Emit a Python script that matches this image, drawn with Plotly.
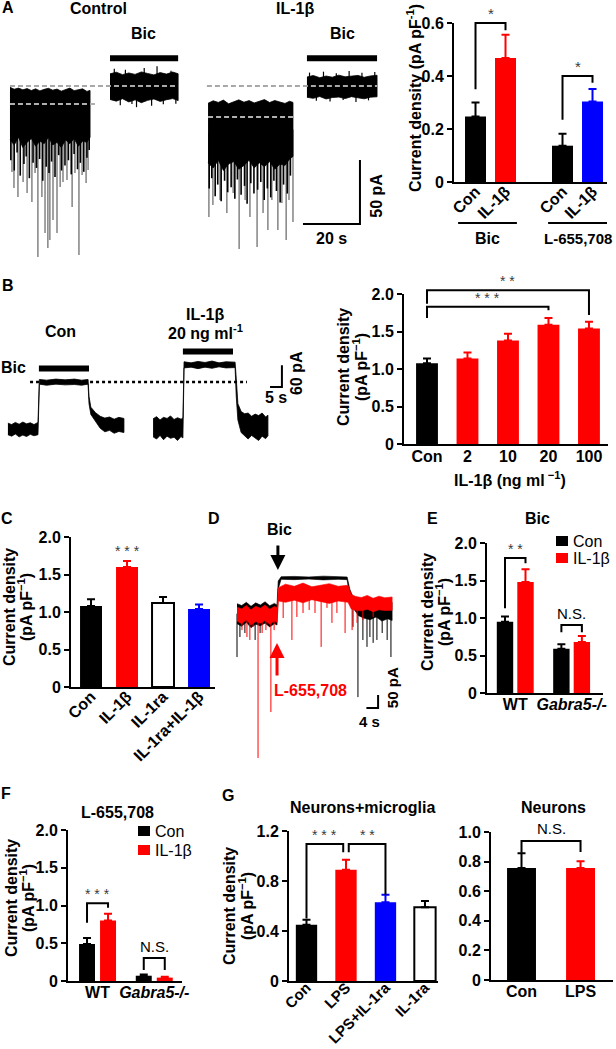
import plotly.graph_objects as go

W, H = 616, 1049
FONT = "Liberation Sans, Arial, Helvetica, sans-serif"
RED, BLUE, BLK, WHITE = "#ff0000", "#0000ff", "#000000", "#ffffff"
SPK = "#707070"
STARC = "#3a3a3a"

# ======================= DATA =======================
# ---- A: recordings (time s, current pA) ----
a_ctl_t = [3.5, 5.0, 6.5, 8.0, 9.5, 11.0, 12.5, 14.0, 15.5, 17.0, 18.5, 20.0, 21.5, 23.0, 24.5, 26.0, 27.5, 29.0, 30.5, 31.6]
a_ctl_top = [-1.0, -2.5, -1.6, -3.0, -2.0, -3.5, -2.2, -3.8, -2.6, -1.8, -3.2, -2.4, -4.0, -2.8, -1.6, -3.6, -3.0, -2.2, -4.2, -3.4]
a_ctl_bot = [-42, -46, -40, -48, -44, -41, -47, -43, -45, -40, -46, -44, -48, -42, -45, -41, -47, -43, -44, -40]
a_ctl_blk_t = [3.8, 5.0, 6.0, 7.1, 8.4, 9.2, 10.3, 11.6, 12.8, 13.9, 15.0, 16.2, 17.2, 18.1, 19.3, 20.6, 21.6, 22.8, 24.0, 25.0, 26.0, 27.2, 28.2, 29.4, 30.5, 31.3]
a_ctl_blk_y = [-58, -66, -52, -70, -61, -55, -72, -60, -64, -57, -74, -63, -68, -59, -71, -54, -66, -62, -58, -69, -53, -65, -60, -67, -56, -50]
a_ctl_spk_t = [4.2, 4.9, 6.3, 8.1, 9.5, 11.2, 12.3, 13.3, 14.7, 15.8, 16.8, 17.5, 18.6, 20.0, 21.1, 22.1, 23.5, 25.3, 26.3, 27.7, 28.8, 30.2, 30.9]
a_ctl_spk_y = [-67.2, -79.7, -86.7, -75.0, -83.6, -90.6, -68.0, -133.6, -86.7, -114.8, -126.6, -120.3, -104.7, -114.8, -78.9, -75.0, -73.4, -94.5, -68.0, -132.0, -69.5, -75.8, -65.6]
a_ctl_bic_t = [38.6, 40.8, 43.0, 45.2, 47.4, 49.6, 51.8, 54.0, 56.2, 58.4, 60.6, 62.5]
a_ctl_bic_top = [9.5, 10.8, 8.9, 10.2, 9.1, 11.0, 9.8, 8.7, 10.5, 9.3, 10.9, 9.6]
a_ctl_bic_bot = [-10.5, -11.8, -9.9, -12.4, -10.8, -13.0, -11.2, -10.1, -12.0, -10.7, -9.8, -11.4]
a_ctl_bic_spk_t = [40.1, 42.2, 44.0, 46.3, 47.9, 50.6, 53.2, 55.1, 57.3, 60.0, 61.7]
a_ctl_bic_spk_y = [13.5, -15.0, 12.8, -14.0, -16.5, 14.0, -15.5, 15.5, -14.2, 12.0, -13.8]
a_ctl_hold = -14.0

a_il_t = [73.0, 74.8, 76.6, 78.4, 80.2, 82.0, 83.8, 85.6, 87.4, 89.2, 91.0, 92.8, 94.6, 96.4, 98.2, 100.0, 101.6, 102.8]
a_il_top = [-13.5, -11.5, -12.8, -11.0, -13.9, -12.2, -10.8, -12.6, -11.4, -13.2, -11.8, -10.6, -12.9, -11.3, -12.5, -13.6, -11.9, -12.8]
a_il_bot = [-60, -64, -58, -66, -61, -59, -65, -62, -58, -64, -60, -63, -59, -65, -61, -62, -57, -55]
a_il_blk_t = [73.4, 74.3, 75.5, 76.4, 77.6, 78.8, 79.9, 81.1, 82.4, 83.3, 84.6, 85.8, 86.7, 88.0, 89.1, 90.4, 91.5, 92.7, 93.8, 95.0, 96.1, 97.0, 98.3, 99.5, 100.8, 101.9]
a_il_blk_y = [-80, -72, -86, -77, -90, -74, -83, -79, -88, -73, -85, -78, -92, -76, -84, -81, -75, -89, -80, -87, -74, -82, -91, -77, -84, -70]
a_il_spk_t = [73.3, 74.7, 77.2, 79.6, 81.8, 83.9, 86.0, 87.7, 90.2, 92.3, 94.0, 95.4, 97.5, 98.9, 100.4, 101.4, 102.8]
a_il_spk_y = [-102.3, -93.0, -89.0, -99.2, -83.6, -127.3, -89.0, -102.3, -125.8, -99.2, -112.5, -89.0, -112.5, -91.4, -120.3, -89.0, -106.3]
a_il_bic_t = [107.7, 109.9, 112.2, 114.4, 116.6, 118.9, 121.1, 123.3, 125.6, 127.8, 130.0, 132.3]
a_il_bic_top = [7.0, 8.2, 6.5, 7.8, 6.9, 8.5, 7.2, 7.6, 8.3, 6.8, 7.9, 8.4]
a_il_bic_bot = [-8.8, -9.6, -8.2, -10.1, -9.0, -8.6, -9.8, -8.3, -9.2, -10.0, -8.7, -8.4]
a_il_bic_spk_t = [108.6, 111.0, 113.5, 115.8, 118.0, 120.4, 122.5, 124.9, 127.0, 129.3, 131.5]
a_il_bic_spk_y = [10.5, -11.5, 11.2, -12.0, 10.0, -11.0, 11.8, -12.5, 10.4, -11.2, 11.0]
a_il_hold = -24.2
a_bic_level = 0.0

# ---- A: bars ----
a_ticks = ["Con", "IL-1β", "Con", "IL-1β"]
a_groups = ["Bic", "L-655,708"]
a_vals = [0.247, 0.468, 0.137, 0.304]
a_errs = [0.053, 0.088, 0.045, 0.047]

# ---- B: recordings ----
b_con_t = [3.4, 5.0, 6.6, 8.2, 9.8, 11.4, 13.0, 14.6, 16.3, 16.9, 20.0, 24.0, 28.0, 32.0, 35.0, 37.8, 38.2, 39.0, 41.0, 43.0, 45.0, 47.0, 49.0, 51.0, 53.2]
b_con_top = [-114, -118, -112, -117, -111, -116, -113, -118, -112, 7, 5, 8, 6, 8, 5, 7, -40, -70, -85, -95, -100, -97, -103, -98, -101]
b_con_bot = [-146, -150, -144, -152, -147, -151, -145, -149, -146, -6, -9, -6, -8, -7, -9, -6, -60, -90, -110, -128, -138, -134, -142, -137, -140]
b_il_t = [65.7, 67.2, 68.7, 70.2, 71.7, 73.2, 74.7, 76.2, 77.7, 78.5, 79.0, 82.0, 85.0, 88.0, 91.0, 94.0, 97.0, 100.9, 101.4, 102.1, 103.5, 105.0, 106.5, 108.0, 109.5, 111.0, 112.5, 114.0, 115.0]
b_il_top = [-102, -96, -105, -98, -101, -94, -104, -99, -103, -100, 56, 53, 57, 54, 58, 53, 56, 55, 10, -60, -82, -88, -86, -95, -89, -93, -86, -97, -92]
b_il_bot = [-152, -158, -148, -160, -150, -156, -153, -162, -151, -155, 39, 41, 37, 41, 38, 42, 39, 40, -40, -105, -140, -150, -158, -148, -156, -162, -150, -157, -149]
b_con_bic = [16.7, 38.2]
b_il_bic = [78.5, 100.0]

# ---- B: bars ----
b_ticks = ["Con", "2", "10", "20", "100"]
b_vals = [1.076, 1.14, 1.38, 1.59, 1.54]
b_errs = [0.065, 0.08, 0.09, 0.09, 0.09]

# ---- C ----
c_ticks = ["Con", "IL-1β", "IL-1ra", "IL-1ra+IL-1β"]
c_vals = [1.08, 1.60, 1.12, 1.04]
c_errs = [0.09, 0.08, 0.08, 0.06]

# ---- D: recordings ----
d_blk_t = [2.4, 4.0, 5.6, 7.2, 8.8, 10.4, 12.0, 13.6, 15.2, 16.1, 16.5, 17.5, 22.0, 27.0, 32.0, 37.0, 40.1, 41.0, 42.1, 44.0, 46.0, 48.0, 50.0, 52.0, 54.0, 55.5]
d_blk_top = [35, 28, 40, 25, 38, 30, 42, 27, 36, 30, 120, 136, 137, 135, 138, 136, 135, 90, 60, 45, 50, 38, 48, 35, 42, 40]
d_blk_bot = [-40, -50, -35, -55, -42, -48, -38, -52, -40, -45, 90, 126, 125, 127, 124, 126, 125, 60, 20, -10, -20, -25, -15, -30, -22, -28]
d_blk_spk_t = [2.4, 3.4, 5.1, 8.6, 10.3, 42.1, 43.8, 45.5, 46.9, 47.9, 49.0, 50.3, 52.1, 53.8, 55.1]
d_blk_spk_y = [-165, -90, -75, -101, -75, -52, -315, -101, -127, -90, -112, -101, -75, -101, -165]
d_red_t = [2.4, 4.0, 5.6, 7.2, 8.8, 10.4, 12.0, 13.6, 15.2, 16.1, 16.6, 19.0, 22.0, 25.0, 28.0, 31.0, 34.0, 37.0, 40.4, 41.5, 43.0, 45.0, 47.0, 49.0, 51.0, 53.0, 55.5]
d_red_top = [22, 15, 28, 12, 25, 18, 30, 14, 24, 20, 95, 108, 100, 112, 98, 105, 110, 100, 104, 70, 62, 58, 66, 55, 63, 57, 60]
d_red_bot = [-30, -40, -25, -45, -32, -38, -28, -42, -30, -35, 45, 40, 48, 38, 50, 42, 36, 45, 40, 15, 10, 8, 14, 5, 12, 9, 10]
d_red_spk_t = [4.1, 5.8, 6.8, 7.9, 9.6, 11.0, 12.3, 14.0, 15.1, 18.2, 21.2, 22.9, 25.0, 27.1, 29.1, 31.2, 33.2, 34.9, 36.6, 39.4, 41.8, 43.5, 45.5, 49.0]
d_red_spk_y = [-64, -90, -101, -52, -543, -75, -64, -371, -64, -19, -101, -15, 0, 11, 0, -127, 19, -37, 0, -75, -64, -37, -26, -15]
d_apply_t = 16.3

# ---- E ----
e_ticks = ["WT", "<i>Gabra5-/-</i>"]
e_con = [0.95, 0.59]
e_con_err = [0.07, 0.06]
e_il = [1.48, 0.68]
e_il_err = [0.17, 0.08]

# ---- F ----
f_con = [0.49, 0.07]
f_con_err = [0.08, 0.015]
f_il = [0.80, 0.045]
f_il_err = [0.09, 0.01]

# ---- G ----
g1_ticks = ["Con", "LPS", "LPS+IL-1ra", "IL-1ra"]
g1_vals = [0.45, 0.89, 0.63, 0.59]
g1_errs = [0.04, 0.08, 0.06, 0.05]
g2_ticks = ["Con", "LPS"]
g2_vals = [0.757, 0.757]
g2_errs = [0.10, 0.045]

# ======================= FIGURE =======================
fig = go.Figure()
layout = dict(width=W, height=H, margin=dict(l=0, r=0, t=0, b=0), template="none",
              paper_bgcolor="white", plot_bgcolor="rgba(0,0,0,0)", showlegend=False,
              barmode="overlay", font=dict(family=FONT, color="black", size=15))
shapes, annos = [], []
AX = {}


def tf(size=16):
    return dict(family=FONT, size=size, color="black", weight="bold")


def ref(n):
    return ("x" if n == 1 else f"x{n}"), ("y" if n == 1 else f"y{n}")


def make_axis(n, xpx, ypx, xr, yr, bar=False, yt=None, xt=None, xang=0, stand=0, xfs=16):
    AX[n] = (xpx, ypx, xr, yr)
    xk = "xaxis" if n == 1 else f"xaxis{n}"
    yk = "yaxis" if n == 1 else f"yaxis{n}"
    xr_, yr_ = ref(n)
    xa = dict(domain=[xpx[0] / W, xpx[1] / W], range=list(xr), anchor=yr_, showgrid=False,
              zeroline=False, visible=bar, automargin=False, fixedrange=True)
    ya = dict(domain=[1 - ypx[1] / H, 1 - ypx[0] / H], range=list(yr), anchor=xr_, showgrid=False,
              zeroline=False, visible=bar, automargin=False, fixedrange=True)
    if bar:
        xa.update(showline=True, linewidth=2, linecolor="black", ticks="", tickmode="array",
                  tickvals=xt[0], ticktext=xt[1], tickangle=xang, tickfont=tf(xfs),
                  ticklabelstandoff=stand)
        ya.update(showline=True, linewidth=2, linecolor="black", ticks="outside", ticklen=5,
                  tickwidth=2, tickcolor="black", tickmode="array", tickvals=yt[0],
                  ticktext=yt[1], tickfont=tf(16))
    layout[xk] = xa
    layout[yk] = ya


def P(n, x, y):
    xpx, ypx, xr, yr = AX[n]
    px = xpx[0] + (x - xr[0]) / (xr[1] - xr[0]) * (xpx[1] - xpx[0])
    py = ypx[1] - (y - yr[0]) / (yr[1] - yr[0]) * (ypx[1] - ypx[0])
    return px / W, 1 - py / H


def pp(px, py):
    return px / W, 1 - py / H


def text(xy, s, size=16, bold=True, color="black", angle=0, xanchor="center", yanchor="middle"):
    annos.append(dict(x=xy[0], y=xy[1], xref="paper", yref="paper", showarrow=False,
                      text=(f"<b>{s}</b>" if bold else s), textangle=angle,
                      font=dict(family=FONT, size=size, color=color),
                      xanchor=xanchor, yanchor=yanchor, borderpad=0))


def ytitle(x1, x2, cy, size=16, l1="Current density", l2="(pA pF<sup>−1</sup>)"):
    text(pp(x1, cy), l1, size=size, angle=-90)
    text(pp(x2, cy), l2, size=size, angle=-90)


def band(n, t, top, bot, color, lw=0.8):
    xr_, yr_ = ref(n)
    fig.add_trace(go.Scatter(x=list(t) + list(t[::-1]), y=list(top) + list(bot[::-1]),
                             fill="toself", fillcolor=color, mode="lines",
                             line=dict(color=color, width=lw), xaxis=xr_, yaxis=yr_,
                             hoverinfo="skip"))


def spikes(n, st, sy, t, top, bot, color, lw=1.2):
    xr_, yr_ = ref(n)
    xs, ys = [], []
    for ts, ysp in zip(st, sy):
        i = min(range(len(t)), key=lambda k: abs(t[k] - ts))
        base = (top[i] + bot[i]) / 2
        xs += [ts, ts, None]
        ys += [base, ysp, None]
    fig.add_trace(go.Scatter(x=xs, y=ys, mode="lines", line=dict(color=color, width=lw),
                             xaxis=xr_, yaxis=yr_, hoverinfo="skip"))


def line(n, xs, ys, color="black", width=2, dash=None):
    xr_, yr_ = ref(n)
    fig.add_trace(go.Scatter(x=xs, y=ys, mode="lines",
                             line=dict(color=color, width=width, dash=dash),
                             xaxis=xr_, yaxis=yr_, hoverinfo="skip"))


def bars(n, xs, vals, errs, cols, width):
    xr_, yr_ = ref(n)
    for x, v, e, c in zip(xs, vals, errs, cols):
        white = c == WHITE
        fig.add_trace(go.Bar(x=[x], y=[v], width=width, xaxis=xr_, yaxis=yr_,
                             marker=dict(color=c, line=dict(color=BLK, width=2 if white else 0)),
                             error_y=dict(type="data", symmetric=False, array=[e], arrayminus=[0],
                                          color=BLK if white else c, thickness=2, width=4),
                             hoverinfo="skip"))


def bracket(n, x1, x2, ytop, yl, yr_):
    X1, Yt = P(n, x1, ytop)
    X2, _ = P(n, x2, ytop)
    _, Yl = P(n, x1, yl)
    _, Yr = P(n, x2, yr_)
    shapes.append(dict(type="path", xref="paper", yref="paper",
                       path=f"M {X1},{Yl} L {X1},{Yt} L {X2},{Yt} L {X2},{Yr}",
                       line=dict(color="black", width=2)))


def stars(n, x, y, s, size=14):
    xy = P(n, x, y)
    annos.append(dict(x=xy[0], y=xy[1], xref="paper", yref="paper", showarrow=False,
                      text=s, font=dict(family=FONT, size=size,
                                        color=STARC if s.startswith("*") else "black"),
                      xanchor="center", yanchor="bottom", borderpad=0))


def legend_box(px, py, color, label):
    shapes.append(dict(type="rect", xref="paper", yref="paper",
                       x0=px / W, x1=(px + 12) / W, y0=1 - (py + 5) / H, y1=1 - (py - 5) / H,
                       fillcolor=color, line=dict(width=0)))
    text(pp(px + 16, py), label, size=16, bold=False, xanchor="left")


# ---------------- Panel A: traces ----------------
make_axis(1, (0, 400), (0, 265), (0, 140.35), (-139.8, 67.2))
spikes(1, a_ctl_spk_t, a_ctl_spk_y, a_ctl_t, a_ctl_top, a_ctl_bot, SPK, 1.3)
spikes(1, a_il_spk_t, a_il_spk_y, a_il_t, a_il_top, a_il_bot, SPK, 1.3)
spikes(1, a_ctl_blk_t, a_ctl_blk_y, a_ctl_t, a_ctl_top, a_ctl_bot, BLK, 1.6)
spikes(1, a_il_blk_t, a_il_blk_y, a_il_t, a_il_top, a_il_bot, BLK, 1.6)
spikes(1, a_ctl_bic_spk_t, a_ctl_bic_spk_y, a_ctl_bic_t, a_ctl_bic_top, a_ctl_bic_bot, BLK, 1.2)
spikes(1, a_il_bic_spk_t, a_il_bic_spk_y, a_il_bic_t, a_il_bic_top, a_il_bic_bot, BLK, 1.2)
band(1, a_ctl_t, a_ctl_top, a_ctl_bot, BLK)
band(1, a_il_t, a_il_top, a_il_bot, BLK)
band(1, a_ctl_bic_t, a_ctl_bic_top, a_ctl_bic_bot, BLK)
band(1, a_il_bic_t, a_il_bic_top, a_il_bic_bot, BLK)
line(1, [a_ctl_t[0], a_ctl_bic_t[-1]], [a_bic_level] * 2, "#a8a8a8", 2, "5px,3px")
line(1, [a_il_t[0] - 0.4, a_il_bic_t[-1]], [a_bic_level] * 2, "#a8a8a8", 2, "5px,3px")
line(1, [a_ctl_t[0], a_ctl_t[-1] + 2.4], [a_ctl_hold] * 2, "#b0b0b0", 2, "5px,3px")
line(1, [a_il_t[0], a_il_t[-1]], [a_il_hold] * 2, "#b0b0b0", 2, "5px,3px")
line(1, [a_ctl_bic_t[0], a_ctl_bic_t[-1]], [21.7, 21.7], BLK, 6)
line(1, [a_il_bic_t[0], a_il_bic_t[-1]], [21.7, 21.7], BLK, 6)
line(1, [106.3, 126.3, 126.3], [-107.8, -107.8, -57.8], BLK, 2)
text(P(1, 34.7, 60.9), "Control")
text(P(1, 103.5, 60.9), "IL-1β")
text(P(1, 50.5, 41.4), "Bic")
text(P(1, 120.0, 41.4), "Bic")
text(P(1, 116.3, -118.8), "20 s")
text(P(1, 131.8, -86.0), "50 pA", angle=-90)

# ---------------- Panel A: bars ----------------
a_x = [0, 1, 2.9, 3.9]
make_axis(2, (454, 607), (23, 182), (-0.717, 4.383), (0, 0.6), bar=True,
          yt=([0, 0.2, 0.4, 0.6], ["0", "0.2", "0.4", "0.6"]), xt=(a_x, a_ticks), xang=-45,
          stand=-8)
bars(2, a_x, a_vals, a_errs, [BLK, RED, BLK, BLUE], 0.7)
bracket(2, 0, 1, 0.6, 0.35, 0.573)
stars(2, 0.5, 0.6, "*", 15)
bracket(2, 2.9, 3.9, 0.40, 0.235, 0.375)
stars(2, 3.4, 0.40, "*", 15)
for g, (x0, x1) in zip(a_groups, [(-0.58, 1.38), (2.42, 4.383)]):
    X0, Y = P(2, x0, -0.155)
    X1, _ = P(2, x1, -0.155)
    shapes.append(dict(type="line", xref="paper", yref="paper", x0=X0, x1=X1, y0=Y, y1=Y,
                       line=dict(color="black", width=2)))
    text(((X0 + X1) / 2, P(2, 0, -0.212)[1]), g, size=16 if g == "Bic" else 15)
text(pp(414, 98), "Current density (pA pF<sup>-1</sup>)", angle=-90)

# ---------------- Panel B: traces ----------------
make_axis(3, (0, 300), (290, 450), (0, 128.76), (-188.4, 254.8))
band(3, b_con_t, b_con_top, b_con_bot, BLK)
band(3, b_il_t, b_il_top, b_il_bot, BLK)
line(3, [12.9, 106.0], [0, 0], BLK, 2.5, "dot")
line(3, b_con_bic, [37.4, 37.4], BLK, 6)
line(3, b_il_bic, [84.5, 84.5], BLK, 6)
line(3, [115.9, 121.0, 121.0], [-13.9, -13.9, 46.1], BLK, 2)
text(P(3, 25.8, 138.5), "Con")
text(P(3, 88.0, 185.6), "IL-1β")
text(P(3, 88.0, 138.5), "20 ng ml<sup>-1</sup>")
text(P(3, 5.6, 38.8), "Bic")
text(P(3, 118.5, -44.0), "5 s")
text(P(3, 127.5, 25.0), "60 pA", angle=-90)

# ---------------- Panel B: bars ----------------
b_x = [0, 1, 2, 3, 4]
make_axis(4, (404, 608), (294, 444), (-0.568, 4.47), (0, 2.0), bar=True,
          yt=([0, 0.5, 1, 1.5, 2], ["0", "0.5", "1.0", "1.5", "2.0"]), xt=(b_x, b_ticks),
          stand=-3)
bars(4, b_x, b_vals, b_errs, [BLK, RED, RED, RED, RED], 0.54)
bracket(4, 0, 4, 2.05, 1.87, 1.72)
stars(4, 2, 2.05, "* *", 14)
bracket(4, 0, 3, 1.83, 1.68, 1.785)
stars(4, 1.5, 1.83, "* * *", 14)
ytitle(343, 360, 367)
text(pp(510, 479), "IL-1β (ng ml<sup> −1</sup>)", size=16)

# ---------------- Panel C ----------------
c_x = [0, 1, 2, 3]
make_axis(5, (71, 215), (537, 687), (-0.556, 3.444), (0, 2.0), bar=True,
          yt=([0, 0.5, 1, 1.5, 2], ["0", "0.5", "1.0", "1.5", "2.0"]), xt=(c_x, c_ticks),
          xang=-45, stand=-8)
bars(5, c_x, c_vals, c_errs, [BLK, RED, WHITE, BLUE], 0.61)
stars(5, 1, 1.70, "* * *", 14)
ytitle(9, 25, 607)

# ---------------- Panel D: traces ----------------
make_axis(6, (230, 400), (525, 765), (0, 58.2), (-569.3, 329.6))
spikes(6, d_blk_spk_t, d_blk_spk_y, d_blk_t, d_blk_top, d_blk_bot, BLK, 1.0)
band(6, d_blk_t, d_blk_top, d_blk_bot, BLK, 0.6)
spikes(6, d_red_spk_t, d_red_spk_y, d_red_t, d_red_top, d_red_bot, RED, 1.0)
band(6, d_red_t, d_red_top, d_red_bot, RED, 0.6)
line(6, [46.7, 50.7, 50.7], [-356, -356, -307], BLK, 2)
hx, hy = P(6, d_apply_t + 0.1, 161)
annos.append(dict(x=hx, y=hy, xref="paper", yref="paper", ax=0, ay=-26, text="",
                  showarrow=True, arrowhead=2, arrowsize=1, arrowwidth=3, arrowcolor=BLK))
hx, hy = P(6, d_apply_t - 0.2, -112)
annos.append(dict(x=hx, y=hy, xref="paper", yref="paper", ax=0, ay=34, text="",
                  showarrow=True, arrowhead=2, arrowsize=1, arrowwidth=3, arrowcolor=RED))
text(P(6, 17.1, 311), "Bic")
text(P(6, 27.4, -292), "L-655,708", color=RED)
text(P(6, 47.9, -408), "4 s", size=15)
text(P(6, 55.5, -281), "50 pA", size=15, angle=-90)

# ---------------- Panel E ----------------
e_xc, e_xi = [0, 2.75], [1, 3.75]
make_axis(7, (487, 603), (543, 693), (-0.878, 4.78), (0, 2.0), bar=True,
          yt=([0, 0.5, 1, 1.5, 2], ["0", "0.5", "1.0", "1.5", "2.0"]),
          xt=([0.5, 3.25], e_ticks), stand=-4)
bars(7, e_xc, e_con, e_con_err, [BLK, BLK], 0.8)
bars(7, e_xi, e_il, e_il_err, [RED, RED], 0.8)
bracket(7, 0, 1, 1.80, 1.13, 1.73)
stars(7, 0.5, 1.80, "* *", 14)
bracket(7, 2.75, 3.75, 0.907, 0.81, 0.81)
stars(7, 3.25, 0.93, "N.S.", 15)
ytitle(427, 443, 612)
legend_box(556, 541, BLK, "Con")
legend_box(556, 558, RED, "IL-1β")

# ---------------- Panel F ----------------
f_xc, f_xi = [0, 2.7], [1, 3.7]
make_axis(8, (68, 182), (830, 981), (-0.905, 4.52), (0, 2.0), bar=True,
          yt=([0, 0.5, 1, 1.5, 2], ["0", "0.5", "1.0", "1.5", "2.0"]),
          xt=([0.5, 3.2], e_ticks), stand=-4)
bars(8, f_xc, f_con, f_con_err, [BLK, BLK], 0.76)
bars(8, f_xi, f_il, f_il_err, [RED, RED], 0.76)
bracket(8, 0, 1, 1.03, 0.77, 0.97)
stars(8, 0.5, 1.03, "* * *", 14)
bracket(8, 2.7, 3.7, 0.305, 0.146, 0.146)
stars(8, 3.2, 0.33, "N.S.", 15)
ytitle(11, 27, 898)
legend_box(138, 831, BLK, "Con")
legend_box(138, 850, RED, "IL-1β")

# ---------------- Panel G ----------------
g1_x = [0, 1, 2, 3]
make_axis(9, (289, 438), (831, 981), (-0.443, 3.33), (0, 1.2), bar=True,
          yt=([0, 0.4, 0.8, 1.2], ["0", "0.4", "0.8", "1.2"]), xt=(g1_x, g1_ticks), xang=-45,
          stand=-10, xfs=15)
bars(9, g1_x, g1_vals, g1_errs, [BLK, RED, BLUE, WHITE], 0.54)
bracket(9, 0, 0.93, 1.096, 0.50, 1.03)
stars(9, 0.46, 1.096, "* * *", 14)
bracket(9, 1.07, 2, 1.096, 1.03, 0.69)
stars(9, 1.54, 1.096, "* *", 14)
ytitle(229, 246, 906)

g2_x = [0, 1]
make_axis(10, (491, 613), (832, 980), (-0.517, 1.55), (0, 1.0), bar=True,
          yt=([0, 0.2, 0.4, 0.6, 0.8, 1.0], ["0", "0.2", "0.4", "0.6", "0.8", "1.0"]),
          xt=(g2_x, g2_ticks), stand=-4)
bars(10, g2_x, g2_vals, g2_errs, [BLK, RED], 0.49)
bracket(10, 0, 1, 0.94, 0.86, 0.865)
stars(10, 0.5, 0.96, "N.S.", 15)

# ---------------- panel letters & titles ----------------
for s, x, y in [("A", 8, 8), ("B", 8, 285), ("C", 7, 518), ("D", 214, 518),
                ("E", 432, 518), ("F", 6, 793), ("G", 228, 795)]:
    text(pp(x, y), s, size=16)
text(pp(537, 518), "Bic")
text(pp(117, 812), "L-655,708")
text(pp(362, 807), "Neurons+microglia")
text(pp(553, 807), "Neurons")

layout["shapes"] = shapes
layout["annotations"] = annos
fig.update_layout(**layout)
fig.write_html("out.html", config={"displayModeBar": False, "staticPlot": True},
               post_script="document.body.style.margin='0';document.body.style.padding='0';"
                           "document.body.style.overflow='hidden';"
                           "document.documentElement.style.overflow='hidden';")
